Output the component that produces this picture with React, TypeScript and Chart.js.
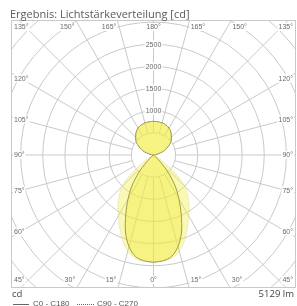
import React, { useEffect, useRef } from "react";
import { Chart, registerables } from "chart.js";

Chart.register(...registerables);

// ---- data ----
const GAMMA = [0, 5, 10, 15, 20, 25, 30, 35, 40, 45, 50, 55, 60, 65, 70, 75, 80, 85, 90, 95, 100, 105, 110, 115, 120, 125, 130, 135, 140, 145, 150, 155, 160, 165, 170, 175, 180];
const C0_C180 = [2420, 2400, 2330, 2140, 1850, 1480, 1150, 850, 520, 220, 60, 0, 0, 0, 0, 0, 0, 0, 0, 0, 40, 120, 220, 300, 380, 460, 520, 570, 620, 665, 700, 725, 740, 750, 755, 758, 760];
const C90_C270 = [2420, 2410, 2370, 2250, 2050, 1810, 1590, 1400, 1210, 1010, 660, 270, 60, 0, 0, 0, 0, 0, 0, 0, 40, 120, 220, 300, 380, 460, 520, 570, 620, 665, 700, 725, 740, 750, 755, 758, 760];
const SERIES_LABELS = ["C0 - C180", "C90 - C270"];
const GRID_CIRCLES = [500, 1000, 1500, 2000, 2500, 3000, 3500, 4000, 4500, 5000];
const RING_LABELS = [1000, 1500, 2000, 2500];
const ANGLE_TICKS = [0, 15, 30, 45, 60, 75, 90, 105, 120, 135, 150, 165, 180];
const TITLE = "Ergebnis: Lichtstärkeverteilung [cd]";
const UNIT = "cd";
const FLUX = "5129 lm";

function toPoints(values: number[]) {
  const pts: { x: number; y: number }[] = [];
  for (let i = 0; i < GAMMA.length; i++) {
    const g = (GAMMA[i] * Math.PI) / 180;
    pts.push({ x: values[i] * Math.sin(g), y: -values[i] * Math.cos(g) });
  }
  for (let i = GAMMA.length - 1; i >= 0; i--) {
    const g = (GAMMA[i] * Math.PI) / 180;
    pts.push({ x: -values[i] * Math.sin(g), y: -values[i] * Math.cos(g) });
  }
  return pts;
}

const GRID = "#c9c9c9";
const LABEL = "#6a6a6a";

const polarPlugin = {
  id: "polarGrid",
  beforeDatasetsDraw(chart: any) {
    const { ctx, chartArea: a, scales } = chart;
    const xs = scales.x, ys = scales.y;
    const cx = xs.getPixelForValue(0), cy = ys.getPixelForValue(0);
    const rpx = (v: number) => xs.getPixelForValue(v) - cx;
    ctx.save();
    ctx.beginPath();
    ctx.rect(a.left, a.top, a.right - a.left, a.bottom - a.top);
    ctx.clip();
    ctx.strokeStyle = GRID;
    ctx.lineWidth = 1;
    for (const v of GRID_CIRCLES) {
      ctx.beginPath();
      ctx.arc(cx, cy, rpx(v), 0, Math.PI * 2);
      ctx.stroke();
    }
    const r0 = rpx(GRID_CIRCLES[0]);
    const r1 = rpx(GRID_CIRCLES[GRID_CIRCLES.length - 1]);
    for (const ang of ANGLE_TICKS) {
      for (const s of [-1, 1]) {
        if (s === -1 && (ang === 0 || ang === 180)) continue;
        const g = (ang * Math.PI) / 180;
        const dx = s * Math.sin(g), dy = Math.cos(g);
        ctx.beginPath();
        ctx.moveTo(cx + dx * r0, cy + dy * r0);
        ctx.lineTo(cx + dx * r1, cy + dy * r1);
        ctx.stroke();
      }
    }
    ctx.restore();
  },
  afterDatasetsDraw(chart: any) {
    const { ctx, chartArea: a, scales } = chart;
    const xs = scales.x, ys = scales.y;
    const cx = xs.getPixelForValue(0), cy = ys.getPixelForValue(0);
    ctx.save();
    // ring labels
    ctx.font = "7px 'Liberation Sans', Arial, sans-serif";
    ctx.textAlign = "center";
    ctx.textBaseline = "middle";
    for (const v of RING_LABELS) {
      const y = ys.getPixelForValue(v);
      const t = String(v);
      const w = ctx.measureText(t).width;
      ctx.fillStyle = "#fff";
      ctx.fillRect(cx - w / 2 - 1, y - 4, w + 2, 8);
      ctx.fillStyle = LABEL;
      ctx.fillText(t, cx, y + 0.5);
    }
    // frame
    ctx.strokeStyle = GRID;
    ctx.lineWidth = 1;
    ctx.strokeRect(a.left + 0.5, a.top + 0.5, a.right - a.left - 1, a.bottom - a.top - 1);
    // angle labels
    const label = (t: string, x: number, y: number, align: string) => {
      ctx.textAlign = align;
      const w = ctx.measureText(t).width;
      let lx = x;
      if (align === "center") lx = x - w / 2;
      if (align === "right") lx = x - w;
      ctx.fillStyle = "#fff";
      ctx.fillRect(lx - 1, y - 4, w + 2, 8);
      ctx.fillStyle = LABEL;
      ctx.fillText(t, x, y + 0.5);
    };
    for (const ang of ANGLE_TICKS) {
      for (const s of [-1, 1]) {
        if (s === -1 && (ang === 0 || ang === 180)) continue;
        const t = ang + "°";
        const g = (ang * Math.PI) / 180;
        const dx = s * Math.sin(g), dy = Math.cos(g);
        if (ang === 45 || ang === 135) {
          const y = ang === 135 ? a.top + 7 : a.bottom - 8;
          if (s < 0) label(t, a.left + 3, y, "left");
          else label(t, a.right - 3, y, "right");
        } else if (ang > 135) {
          const tt = (a.top - cy) / dy;
          const x = cx + dx * tt;
          label(t, ang === 180 ? x : x + s, a.top + 7, ang === 180 ? "center" : s < 0 ? "right" : "left");
        } else if (ang < 45) {
          const tt = (a.bottom - cy) / dy;
          const x = cx + dx * tt;
          label(t, ang === 0 ? x : x + s * 1.5, a.bottom - 8, ang === 0 ? "center" : s < 0 ? "right" : "left");
        } else {
          const xEdge = s < 0 ? a.left + 10 : a.right - 10;
          const tt = (xEdge - cx) / dx;
          const y = cy + dy * tt;
          if (s < 0) label(t, a.left + 3, y, "left");
          else label(t, a.right - 3, y, "right");
        }
      }
    }
    ctx.restore();
  },
  afterDraw(chart: any) {
    const { ctx, chartArea: a } = chart;
    ctx.save();
    ctx.fillStyle = "#5a5a5a";
    ctx.textBaseline = "alphabetic";
    ctx.textAlign = "left";
    ctx.font = "11px 'Open Sans', sans-serif";
    ctx.fillText(TITLE, 10, 18);
    ctx.fillStyle = "#444";
    ctx.font = "9.5px 'Open Sans', sans-serif";
    ctx.fillText(UNIT, a.left + 1, 297);
    ctx.textAlign = "right";
    ctx.fillText(FLUX, a.right - 2, 297);
    // legend
    ctx.textAlign = "left";
    ctx.textBaseline = "middle";
    ctx.font = "8px 'Liberation Sans', Arial, sans-serif";
    const ly = 304;
    ctx.strokeStyle = "#666";
    ctx.lineWidth = 1;
    ctx.beginPath();
    ctx.moveTo(13, ly + 0.5);
    ctx.lineTo(29, ly + 0.5);
    ctx.stroke();
    ctx.fillStyle = "#555";
    ctx.fillText(SERIES_LABELS[0], 33, ly);
    ctx.setLineDash([1, 1]);
    ctx.beginPath();
    ctx.moveTo(77, ly + 0.5);
    ctx.lineTo(94, ly + 0.5);
    ctx.stroke();
    ctx.setLineDash([]);
    ctx.fillText(SERIES_LABELS[1], 97, ly);
    ctx.restore();
  },
};

export default function App() {
  const ref = useRef<HTMLCanvasElement>(null);
  useEffect(() => {
    document.body.style.margin = "0";
    const chart = new Chart(ref.current!, {
      type: "scatter",
      data: {
        datasets: [
          {
            label: SERIES_LABELS[1],
            data: toPoints(C90_C270),
            showLine: true,
            fill: "shape",
            backgroundColor: "rgba(242,236,60,0.38)",
            borderColor: "rgba(215,210,140,0.8)",
            borderWidth: 1,
            borderDash: [1, 1.5],
            pointRadius: 0,
            tension: 0.3,
          },
          {
            label: SERIES_LABELS[0],
            data: toPoints(C0_C180),
            showLine: true,
            fill: "shape",
            backgroundColor: "rgba(242,236,60,0.42)",
            borderColor: "#6e6c3c",
            borderWidth: 1,
            pointRadius: 0,
            tension: 0.3,
          },
        ],
      },
      options: {
        responsive: false,
        animation: false,
        layout: { padding: { left: 11, right: 1, top: 20, bottom: 18 } },
        scales: {
          x: { type: "linear", display: false, min: -3217, max: 3217 },
          y: { type: "linear", display: false, min: -3003, max: 3048 },
        },
        plugins: { legend: { display: false }, tooltip: { enabled: false }, title: { display: false } },
      },
      plugins: [polarPlugin],
    } as any);
    return () => chart.destroy();
  }, []);
  return <canvas ref={ref} width={297} height={306} style={{ display: "block" }} />;
}
